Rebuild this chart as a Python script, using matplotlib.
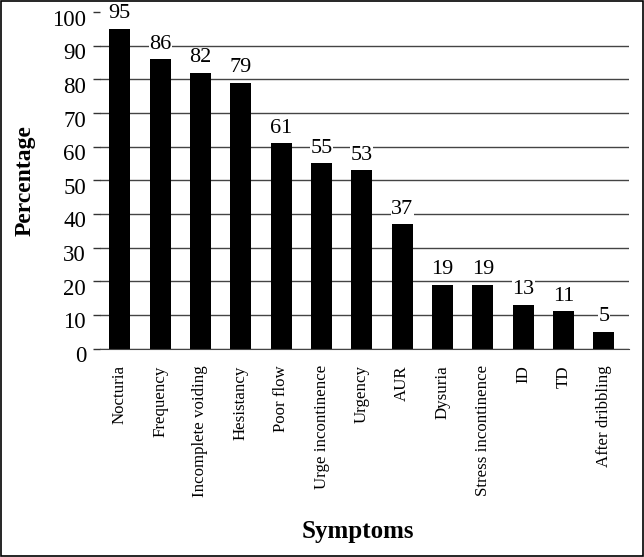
import numpy as np
import matplotlib.pyplot as plt
import matplotlib.transforms as mtransforms

symptoms = ['Nocturia', 'Frequency', 'Incomplete voiding', 'Hesistancy', 'Poor flow',
            'Urge incontinence', 'Urgency', 'AUR', 'Dysuria', 'Stress incontinence',
            'ID', 'TD', 'After dribbling']
percent = [95, 86, 82, 79, 61, 55, 53, 37, 19, 19, 13, 11, 5]
yticks = list(range(0, 101, 10))

plt.rcParams['font.family'] = ['Liberation Serif', 'DejaVu Serif']

fig = plt.figure(figsize=(6.44, 5.57), dpi=100)
ax = fig.add_axes([100 / 644, 1 - 348.5 / 557, 529 / 644, 336.5 / 557])

x = np.arange(len(symptoms))
ax.bar(x, percent, width=0.52, color='black', zorder=2)

# value labels with white box so the gridlines break around them
for xi, v in zip(x, percent):
    ax.text(xi, v + 1.6, str(v), ha='center', va='bottom', fontsize=16,
            bbox=dict(facecolor='white', edgecolor='none', pad=0.3), zorder=1.5)

ax.set_ylim(0, 100)
ax.set_xlim(-0.49, 12.62)
ax.set_yticks(yticks)
ax.tick_params(axis='y', labelsize=16.5, length=5, width=1, direction='out', color='#333333', pad=5)
# tick labels sit a little below their gridlines in the original
shift = mtransforms.ScaledTranslation(0, -4 / 72, fig.dpi_scale_trans)
for lab in ax.get_yticklabels():
    lab.set_transform(lab.get_transform() + shift)
ax.set_xticks(x)
ax.set_xticklabels(symptoms, rotation=90, fontsize=12.2)
ax.tick_params(axis='x', length=0, pad=12)
ax.yaxis.grid(True, color='#444444', linewidth=1, zorder=0)
ax.get_ygridlines()[-1].set_visible(False)
ax.set_axisbelow(True)
for s in ['left', 'right', 'top']:
    ax.spines[s].set_visible(False)
ax.spines['bottom'].set_color('#444444')

ax.set_ylabel('Percentage', fontsize=17, fontweight='bold', labelpad=12)
fig.text(0.555, 0.035, 'Symptoms', ha='center', fontsize=18, fontweight='bold')

fig.patches.append(plt.Rectangle((0.002, 0.002), 0.996, 0.996, transform=fig.transFigure,
                                 fill=False, edgecolor='black', linewidth=1.2))

fig.savefig('out.png', dpi=100)
